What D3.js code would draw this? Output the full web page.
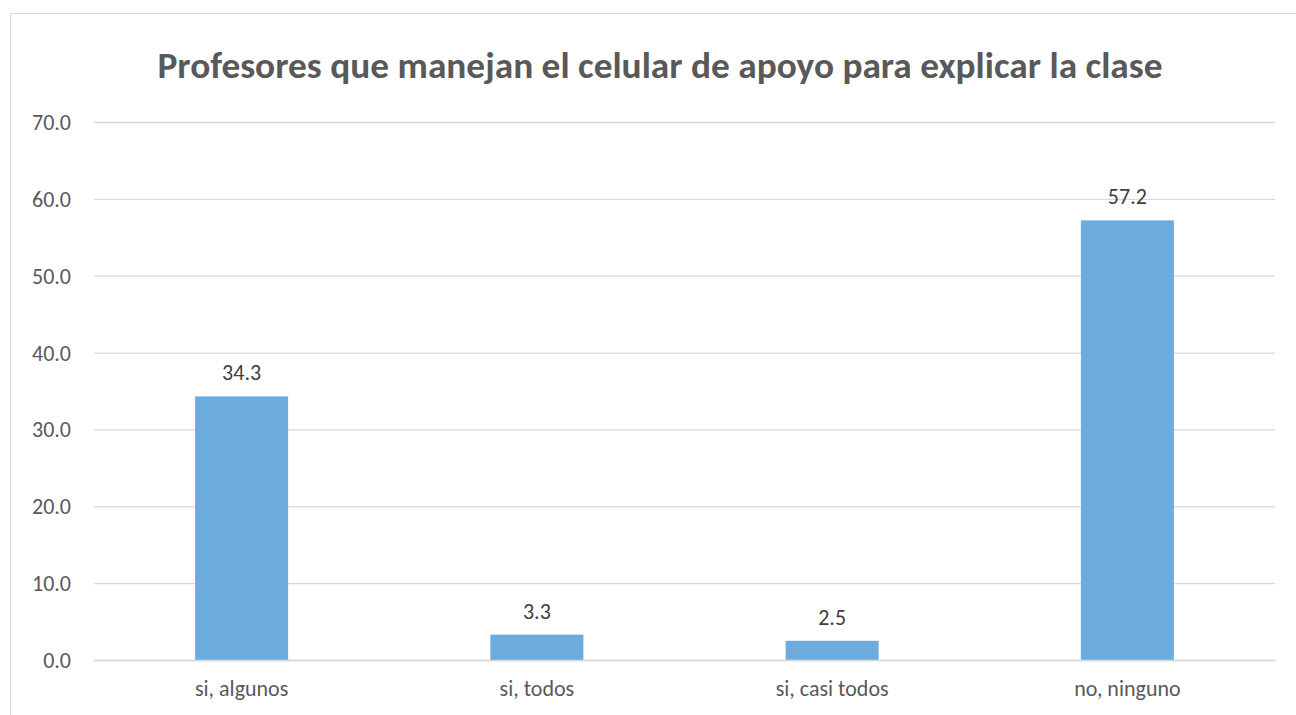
<!DOCTYPE html>
<html>
<head>
<meta charset="utf-8">
<script src="https://cdn.jsdelivr.net/npm/d3@7"></script>
<style>
  html, body { margin: 0; padding: 0; background: #fff; }
  svg { display: block; }
  text { font-family: Carlito, Lato, "Open Sans", sans-serif; }
</style>
</head>
<body>
<svg id="chart" width="1296" height="715"></svg>
<script>
const categories = ["si, algunos", "si, todos", "si, casi todos", "no, ninguno"];
const values = [34.3, 3.3, 2.5, 57.2];
const yTicks = [0, 10, 20, 30, 40, 50, 60, 70];
const title = "Profesores que manejan el celular de apoyo para explicar la clase";

const svg = d3.select("#chart");
const W = 1296, H = 715;
const plot = { left: 94, right: 1275, top: 122, bottom: 660 };

svg.append("rect").attr("width", W).attr("height", H).attr("fill", "#fff");

// chart area frame
svg.append("rect")
  .attr("x", 10.5).attr("y", 13.5)
  .attr("width", W + 10).attr("height", H + 10)
  .attr("fill", "none").attr("stroke", "#d9d9d9").attr("stroke-width", 1);

const x = d3.scaleBand()
  .domain(categories)
  .range([plot.left, plot.right])
  .paddingInner(0.685)
  .paddingOuter(0.3425);

const y = d3.scaleLinear().domain([0, 70]).range([plot.bottom, plot.top]);

// gridlines and value labels on the left
const yAxis = d3.axisLeft(y)
  .tickValues(yTicks)
  .tickSize(-(plot.right - plot.left))
  .tickPadding(23)
  .tickFormat(d3.format(".1f"));

const gy = svg.append("g")
  .attr("transform", `translate(${plot.left},0)`)
  .call(yAxis);
gy.select(".domain").remove();
gy.selectAll(".tick line").attr("stroke", "#d9d9d9").attr("stroke-width", 1.3);
gy.selectAll(".tick text")
  .attr("fill", "#595959")
  .style("font-size", "22px")
  .attr("dy", "0.34em");

// bars
svg.append("g").selectAll("rect")
  .data(categories)
  .join("rect")
  .attr("x", d => x(d))
  .attr("width", x.bandwidth())
  .attr("y", (d, i) => y(values[i]))
  .attr("height", (d, i) => y(0) - y(values[i]))
  .attr("fill", "#6cabdd");

// value labels above the bars
svg.append("g").selectAll("text")
  .data(categories)
  .join("text")
  .attr("x", d => x(d) + x.bandwidth() / 2)
  .attr("y", (d, i) => y(values[i]) - 16)
  .attr("text-anchor", "middle")
  .attr("fill", "#404040")
  .style("font-size", "22px")
  .text((d, i) => values[i].toFixed(1));

// category axis
const gx = svg.append("g")
  .attr("transform", `translate(0,${plot.bottom})`)
  .call(d3.axisBottom(x).tickSize(0).tickPadding(20));
gx.select(".domain").attr("stroke", "#d9d9d9").attr("stroke-width", 1.3);
gx.selectAll(".tick text")
  .attr("fill", "#595959")
  .style("font-size", "22px")
  .attr("dy", "0.71em");

// title
svg.append("text")
  .attr("x", 660)
  .attr("y", 78)
  .attr("text-anchor", "middle")
  .attr("fill", "#595959")
  .style("font-size", "36px")
  .style("font-weight", "bold")
  .attr("textLength", 1005)
  .attr("lengthAdjust", "spacingAndGlyphs")
  .text(title);
</script>
</body>
</html>
